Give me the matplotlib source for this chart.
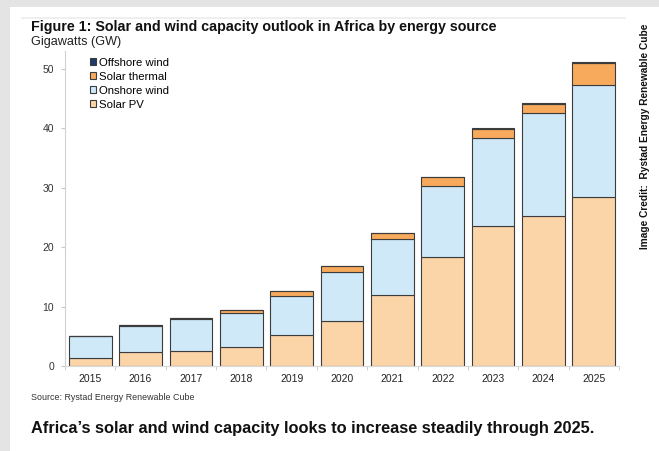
import matplotlib
matplotlib.use('Agg')
import numpy as np
from matplotlib import pyplot as plt
from matplotlib.patches import Rectangle

years = ['2015', '2016', '2017', '2018', '2019', '2020', '2021', '2022', '2023', '2024', '2025']
solar_pv = [1.3, 2.3, 2.6, 3.15, 5.2, 7.6, 11.9, 18.3, 23.6, 25.2, 28.5]
onshore_wind = [3.7, 4.4, 5.25, 5.85, 6.6, 8.3, 9.5, 12.0, 14.7, 17.3, 18.8]
solar_thermal = [0.1, 0.2, 0.15, 0.5, 0.9, 0.9, 0.9, 1.5, 1.5, 1.5, 3.6]
offshore_wind = [0, 0, 0, 0, 0, 0, 0, 0, 0.3, 0.3, 0.3]
yticks = [0, 10, 20, 30, 40, 50]

font = ['Liberation Sans', 'DejaVu Sans']
W, H = 659, 451

fig = plt.figure(figsize=(W / 100, H / 100), dpi=100)
fig.patch.set_facecolor('#e4e4e4')
fig.patches.append(Rectangle((10 / W, 0), 1, 1 - 7 / H, transform=fig.transFigure,
                             facecolor='white', edgecolor='none', zorder=-5))
fig.lines.append(plt.Line2D([22 / W, 625 / W], [1 - 18 / H] * 2, transform=fig.transFigure,
                            color='#ececec', lw=1.2, zorder=-4))

ax = fig.add_axes([65 / W, 1 - 366 / H, 554 / W, 315 / H])
ax.set_facecolor('none')

x = np.arange(len(years))
series = [
    ('Solar PV', solar_pv, '#fbd4a8'),
    ('Onshore wind', onshore_wind, '#cfe9f8'),
    ('Solar thermal', solar_thermal, '#f7aa5c'),
    ('Offshore wind', offshore_wind, '#1f3b6a'),
]
bottom = np.zeros(len(years))
handles = []
for name, vals, color in series:
    vals = np.array(vals)
    b = ax.bar(x, vals, 0.85, bottom=bottom, color=color, edgecolor='#3c3c3c',
               linewidth=0.8, label=name)
    handles.append(b)
    bottom += vals

ax.set_xlim(-0.5, 10.5)
ax.set_ylim(0, 53)
ax.set_yticks(yticks)
ax.set_xticks(x)
ax.set_xticklabels(years)
ax.set_xticks(np.arange(-0.5, 11), minor=True)
ax.tick_params(axis='x', which='major', length=0, pad=6, labelsize=7.5, labelcolor='#222222')
ax.tick_params(axis='x', which='minor', length=3, color='#c8c8c8')
ax.tick_params(axis='y', length=3, color='#c8c8c8', labelsize=7.5, labelcolor='#333333', pad=5)
for lbl in ax.get_xticklabels() + ax.get_yticklabels():
    lbl.set_family(font)
for s in ['top', 'right']:
    ax.spines[s].set_visible(False)
ax.spines['left'].set_color('#d0d0d0')
ax.spines['bottom'].set_color('#d8d8d8')

ax.legend(handles[::-1], [h.get_label() for h in handles[::-1]],
          loc='upper left', bbox_to_anchor=(25 / 554, 0.978), frameon=False,
          prop={'family': font, 'size': 8.2}, handlelength=0.55, handleheight=0.55,
          handletextpad=0.2, labelspacing=0.34, borderaxespad=0, borderpad=0)

renderer = fig.canvas.get_renderer()


def fit_text(t, length, vertical=False):
    # scale the font so the text spans the given number of pixels
    bb = t.get_window_extent(renderer)
    cur = bb.height if vertical else bb.width
    t.set_fontsize(t.get_fontsize() * length / cur)


t1 = fig.text(31 / W, 1 - 27 / H, 'Figure 1: Solar and wind capacity outlook in Africa by energy source',
              family=font, weight='bold', fontsize=10, color='#111111', va='center')
fit_text(t1, 465)
t2 = fig.text(31 / W, 1 - 42 / H, 'Gigawatts (GW)', family=font, fontsize=8,
              color='#222222', va='center')
fit_text(t2, 90)
t3 = fig.text(31 / W, 1 - 398 / H, 'Source: Rystad Energy Renewable Cube', family=font,
              fontsize=6, color='#333333', va='center')
fit_text(t3, 163)
t4 = fig.text(31 / W, 1 - 429 / H,
              'Africa\u2019s solar and wind capacity looks to increase steadily through 2025.',
              family=font, weight='bold', fontsize=10, color='#111111', va='center')
fit_text(t4, 567)
t5 = fig.text(645 / W, 1 - 136 / H, 'Image Credit:  Rystad Energy Renewable Cube',
              family=font, weight='bold', fontsize=10, color='#111111', rotation=90,
              ha='center', va='center')
fit_text(t5, 226, vertical=True)

fig.savefig('out.png', dpi=100, facecolor=fig.get_facecolor())
